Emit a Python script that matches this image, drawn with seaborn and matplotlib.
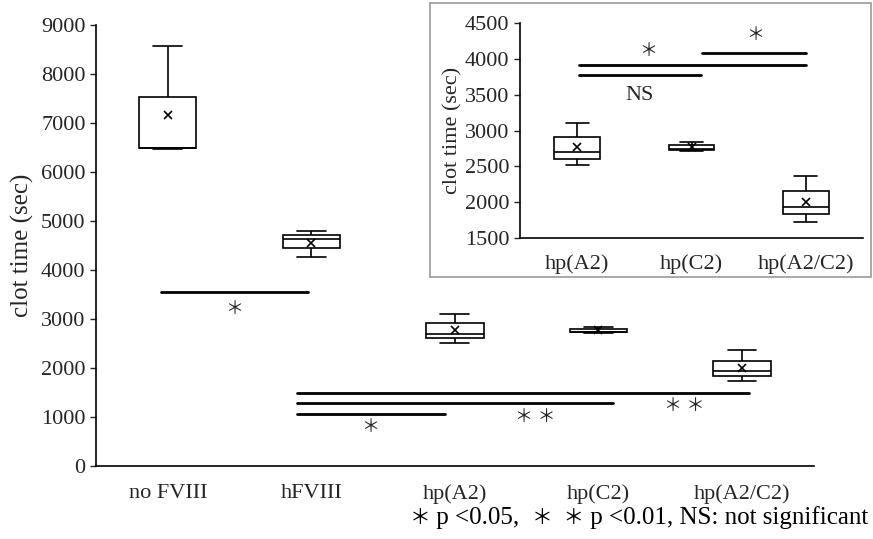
import numpy as np
import pandas as pd
import matplotlib
matplotlib.use("Agg")
import matplotlib.pyplot as plt
from matplotlib.offsetbox import TextArea, HPacker, AnchoredOffsetbox
import seaborn as sns

# five-number summaries (sec)
groups = ["no FVIII", "hFVIII", "hp(A2)", "hp(C2)", "hp(A2/C2)"]
lo     = [6460, 4270, 2520, 2710, 1730]
q1     = [6480, 4450, 2610, 2725, 1830]
median = [6480, 4630, 2700, 2745, 1930]
q3     = [7530, 4720, 2910, 2800, 2150]
hi     = [8580, 4790, 3110, 2840, 2370]
means  = [7160, 4560, 2775, 2770, 2005]

inset_groups = ["hp(A2)", "hp(C2)", "hp(A2/C2)"]

# long-form table: five values per group give exactly these quartiles
rows = []
for g, a, b, c, d, e in zip(groups, lo, q1, median, q3, hi):
    for v in (a, b, c, d, e):
        rows.append({"group": g, "time": v})
df = pd.DataFrame(rows)
mean_df = pd.DataFrame({"group": groups, "time": means})

sns.set_style("white")
plt.rcParams["font.family"] = ["Liberation Serif", "Noto Sans CJK JP"]
plt.rcParams["font.size"] = 16

fig = plt.figure(figsize=(8.73, 5.39), dpi=100)


def draw_boxes(ax, data, mdata, order, xpad):
    sns.boxplot(data=data, x="group", y="time", order=order, ax=ax,
                whis=(0, 100), width=0.4, color="white", linecolor="black",
                linewidth=1.2, showfliers=False)
    sns.pointplot(data=mdata, x="group", y="time", order=order, ax=ax,
                  linestyle="none", markers="x", color="black",
                  errorbar=None, markersize=6, markeredgewidth=1.2)
    n = len(order)
    ax.set_xlim(-0.5, n - 0.5)
    ax.set_xticks(range(n))
    ax.set_xticklabels(order)
    ax.set_xticks(np.arange(-0.5, n), minor=True)
    ax.tick_params(axis="x", which="major", length=0, pad=xpad)
    ax.tick_params(axis="x", which="minor", length=4, width=1, direction="out")
    ax.tick_params(axis="y", length=4, width=1, direction="out", left=True)
    for s in ("top", "right"):
        ax.spines[s].set_visible(False)
    for s in ("left", "bottom"):
        ax.spines[s].set_color("black")
        ax.spines[s].set_linewidth(1.2)
    ax.set_xlabel("")


# main panel
ax = fig.add_axes([0.110, 0.1354, 0.822, 0.8182])
draw_boxes(ax, df, mean_df, groups, 13)
ax.set_ylim(0, 9000)
ax.set_yticks(range(0, 9001, 1000))
ax.set_ylabel("clot time (sec)", labelpad=5, fontsize=18)

star = "＊"
stars2 = star + " " + star
for x0, x1, y in [(-0.05, 0.98, 3550), (0.9, 1.93, 1070),
                  (0.9, 3.10, 1290), (0.9, 4.05, 1500)]:
    ax.plot([x0, x1], [y, y], color="black", lw=2)
for x, y, s in [(0.46, 3200, star), (1.41, 780, star),
                (2.56, 980, stars2), (3.60, 1220, stars2)]:
    ax.text(x, y, s, ha="center", va="center", fontsize=13)

# significance key: small stars, larger text
parts = [(star, 15), (" p <0.05,  ", 18), (star + "  " + star, 15),
         (" p <0.01, NS: not significant", 18)]
boxes = [TextArea(t, textprops=dict(fontsize=fs, color="black")) for t, fs in parts]
key = AnchoredOffsetbox(loc="center right", child=HPacker(children=boxes, align="baseline", pad=0, sep=0),
                        bbox_to_anchor=(0.995, 0.039), bbox_transform=fig.transFigure,
                        pad=0, borderpad=0, frameon=False)
key.set_clip_on(False)
ax.add_artist(key)

# inset frame and panel
frame = plt.Rectangle((0.4925, 0.486), 0.505, 0.508, transform=fig.transFigure,
                      fill=False, edgecolor="#999999", lw=1.2)
fig.add_artist(frame)

inset = df[df["group"].isin(inset_groups)]
inset_means = mean_df[mean_df["group"].isin(inset_groups)]
ax2 = fig.add_axes([0.5956, 0.5584, 0.393, 0.3986])
draw_boxes(ax2, inset, inset_means, inset_groups, 12)
ax2.set_ylim(1500, 4500)
ax2.set_yticks(range(1500, 4501, 500))
ax2.set_ylabel("clot time (sec)", labelpad=2)

for x0, x1, y in [(0.02, 1.08, 3770), (0.02, 2.0, 3920), (1.09, 2.0, 4080)]:
    ax2.plot([x0, x1], [y, y], color="black", lw=2)
ax2.text(0.62, 4100, star, ha="center", va="center", fontsize=13)
ax2.text(1.56, 4330, star, ha="center", va="center", fontsize=13)
ax2.text(0.55, 3490, "NS", ha="center", va="center", fontsize=16)

fig.savefig("out.png", dpi=100)
